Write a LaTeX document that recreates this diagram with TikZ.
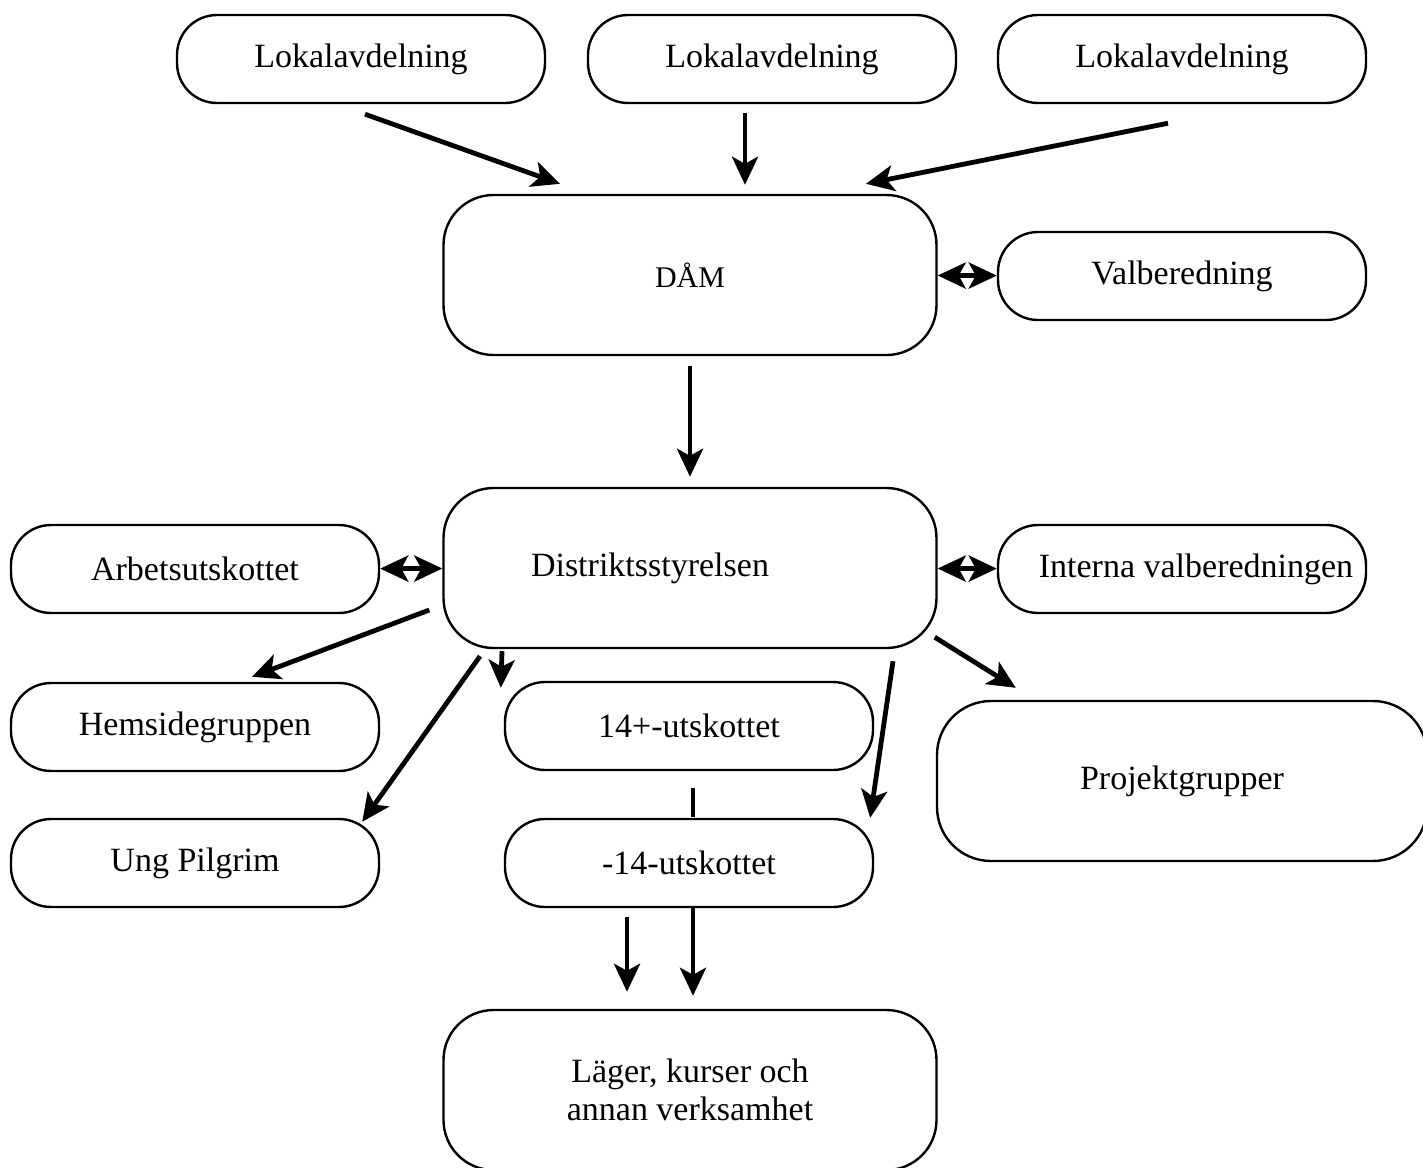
\documentclass[tikz,border=0pt]{standalone}
\usepackage{fontspec}
\setmainfont{Liberation Serif}
\usetikzlibrary{arrows.meta,calc}

\begin{document}
\begin{tikzpicture}[x=.5pt, y=-.5pt, >={Stealth[length=14pt,width=13pt,inset=3.5pt]},
    font=\fontsize{17}{19}\selectfont,
    box/.style={draw, line width=1.2pt, rounded corners=20pt, minimum width=184pt, minimum height=44pt, inner sep=0pt},
    bigbox/.style={box, rounded corners=25pt, minimum width=246.5pt, minimum height=80pt},
    arr/.style={->, line width=2.4pt}]
\useasboundingbox (0,0) rectangle (1423,1167);
    \node[box] (lokA) at (361,59) {Lokalavdelning};
    \node[box] (lokB) at (772,59) {Lokalavdelning};
    \node[box] (lokC) at (1182,59) {Lokalavdelning};
    \node[bigbox, font=\fontsize{15}{17}\selectfont] (daam) at (690,275) {DÅM};
    \node[box] (valb) at (1182,276) {Valberedning};
    \node[bigbox, label={[xshift=-20pt]center:Distriktsstyrelsen}] (dist) at (690,568) {};
    \node[box] (arb) at (195,569) {Arbetsutskottet};
    \node[box, label={[xshift=7pt]center:Interna valberedningen}] (intv) at (1182,569) {};
    \node[box] (hems) at (195,727) {Hemsidegruppen};
    \node[box] (u14p) at (689,726) {14+-utskottet};
    \node[bigbox, minimum width=245pt, rounded corners=27pt] (proj) at (1182,781) {Projektgrupper};
    \node[box] (ung) at (195,863) {Ung Pilgrim};
    \node[box] (u14m) at (689,863) {-14-utskottet};
    \node[bigbox, align=center] (lager) at (690,1090) {Läger, kurser och\\annan verksamhet};
% lokalavdelningar
    \draw[arr] ($(lokA.south)+(4,10)$) -- ($(daam.north)+(-130,-10)$);
    \draw[arr] ($(lokB.south)+(-27,9)$) -- ($(daam.north)+(55,-9)$);
    \draw[arr] ($(lokC.south)+(-14,19)$) -- ($(daam.north)+(176,-10)$);
    \draw[arr, <->] (daam) -- (valb);
    \draw[arr, shorten <=5pt, shorten >=5pt] (daam) -- (dist);
% styrelsen
    \draw[arr, <->] (arb) -- (dist);
    \draw[arr, <->] (dist) -- (intv);
    \draw[arr] ($(dist.west)+(-13,42)$) -- ($(hems.north)+(57,-5)$);
    \draw[arr] ($(dist.south)+(-210,7)$) -- ($(ung.north east)+(-18,4)$);
    \draw[arr] ($(dist.south)+(-188,2)$) -- ($(u14p.north west)+(-3,7)$);
    \draw[arr] ($(dist.south)+(203,12)$) -- ($(u14m.north east)+(-4,0)$);
    \draw[arr] ($(dist.south east)+(-3,-12)$) -- ($(proj.north west)+(80,-12)$);
    \draw[line width=2.4pt] ($(u14p.south)+(4,17)$) -- ($(u14m.north)+(4,-1)$);
    \draw[arr] ($(u14m.south)+(-62,9)$) -- ($(lager.north)+(-63,-17)$);
    \draw[arr] ($(u14m.south)+(4,0)$) -- ($(lager.north)+(3,-13)$);
\end{tikzpicture}
\end{document}
